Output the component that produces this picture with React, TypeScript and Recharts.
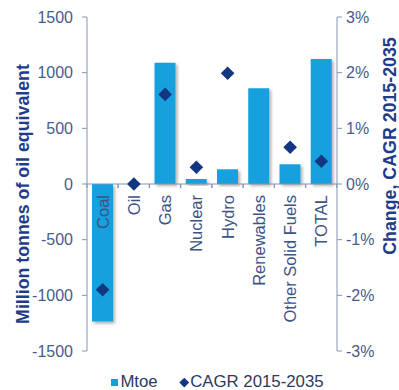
import React from "react";
import { ComposedChart, Bar, Scatter, XAxis, YAxis, ReferenceLine, Legend, LabelList } from "recharts";

const categories = ["Coal", "Oil", "Gas", "Nuclear", "Hydro", "Renewables", "Other Solid Fuels", "TOTAL"];
const mtoe = [-1236, 0, 1089, 45, 132, 859, 177, 1122];
// Renewables growth rate is off the top of the chart, no marker shown
const cagr = [-1.9, 0, 1.61, 0.3, 1.99, null, 0.66, 0.41];
const leftTicks = [-1500, -1000, -500, 0, 500, 1000, 1500];
const rightTicks = [-3, -2, -1, 0, 1, 2, 3];

const data = categories.map((name, i) => ({ name, mtoe: mtoe[i], cagr: cagr[i] }));

const FONT = "'Liberation Sans', Arial, sans-serif";
const BAR = "#14a0dd";
const NAVY = "#123682";
const AXIS = "#8194b6";
const TICK = "#465c8c";
const TITLE = "#1f3c8a";

const Diamond = (props: any) => {
	const { cx, cy, payload } = props;
	if (payload == null || payload.cagr == null) return <g />;
	const r = 6.8;
	return <polygon points={`${cx},${cy - r} ${cx + r},${cy} ${cx},${cy + r} ${cx - r},${cy}`} fill={NAVY} />;
};

const CategoryLabel = (props: any) => {
	const vb = props.viewBox || props;
	const { x, y, width, height } = vb;
	const idx = props.index;
	let zeroY = y + height;
	if (mtoe[idx] < 0 && height > 0) zeroY = y;
	const cx = x + width / 2;
	const band = width / 0.68;
	const ty = zeroY + 11;
	return (
		<g>
			<line x1={cx - band / 2} x2={cx - band / 2} y1={zeroY} y2={zeroY + 4} stroke={AXIS} />
			<line x1={cx + band / 2} x2={cx + band / 2} y1={zeroY} y2={zeroY + 4} stroke={AXIS} />
			<text x={cx} y={ty} transform={`rotate(-90, ${cx}, ${ty})`} textAnchor="end" dominantBaseline="central" fontSize={16.5} fill="#3d5285" fontFamily={FONT}>
				{props.value}
			</text>
		</g>
	);
};

const LeftTitle = (props: any) => {
	const { x, y, height } = props.viewBox;
	const cx = x + 23;
	const cy = y + height / 2 + 10;
	return (
		<text x={cx} y={cy} transform={`rotate(-90, ${cx}, ${cy})`} textAnchor="middle" dominantBaseline="central" fontSize={17.8} fontWeight="bold" fill={TITLE} fontFamily={FONT}>
			Million tonnes of oil equivalent
		</text>
	);
};

const RightTitle = (props: any) => {
	const { x, y, height } = props.viewBox;
	const cx = x + 53;
	const cy = y + height / 2 - 38;
	return (
		<text x={cx} y={cy} transform={`rotate(-90, ${cx}, ${cy})`} textAnchor="middle" dominantBaseline="central" fontSize={17.8} fontWeight="bold" fill={TITLE} fontFamily={FONT}>
			Change, CAGR 2015-2035
		</text>
	);
};

const ChartLegend = () => (
	<div style={{ display: "flex", justifyContent: "center", alignItems: "center", paddingLeft: 36, fontFamily: FONT, fontSize: 16.8, color: "#2b3a5c" }}>
		<span style={{ display: "inline-block", width: 7, height: 7, background: BAR, marginRight: 2 }} />
		<span style={{ marginRight: 23 }}>Mtoe</span>
		<span style={{ display: "inline-block", width: 6.5, height: 6.5, background: NAVY, transform: "rotate(45deg)", marginRight: 3 }} />
		<span>CAGR 2015-2035</span>
	</div>
);

const App = () => {
	return (
		<div style={{ position: "absolute", left: 0, top: 0 }}>
			<ComposedChart width={399} height={390} data={data} margin={{ top: 17, right: 0, bottom: 15, left: 0 }} barCategoryGap="16%">
				<defs>
					<filter id="barShadow" x="-20%" y="-20%" width="140%" height="140%">
						<feDropShadow dx={2} dy={2} stdDeviation={1.5} floodColor="#000" floodOpacity={0.3} />
					</filter>
				</defs>
				<XAxis dataKey="name" hide />
				<YAxis
					yAxisId="left"
					width={87}
					domain={[-1500, 1500]}
					ticks={leftTicks}
					interval={0}
					tickSize={5}
					tickMargin={9}
					axisLine={{ stroke: AXIS }}
					tickLine={{ stroke: AXIS }}
					tick={{ fill: TICK, fontSize: 16, fontFamily: FONT }}
					label={{ content: LeftTitle }}
				/>
				<YAxis
					yAxisId="right"
					orientation="right"
					width={62}
					domain={[-3, 3]}
					ticks={rightTicks}
					interval={0}
					tickSize={5}
					tickMargin={4}
					tickFormatter={(v) => `${v}%`}
					axisLine={{ stroke: AXIS }}
					tickLine={{ stroke: AXIS }}
					tick={{ fill: TICK, fontSize: 16, fontFamily: FONT }}
					label={{ content: RightTitle }}
				/>
				<Bar
					yAxisId="left"
					dataKey="mtoe"
					name="Mtoe"
					fill={BAR}
					isAnimationActive={false}
					minPointSize={(value: number) => (value === 0 ? 0.01 : 0)}
					style={{ filter: "url(#barShadow)" }}
				>
					<LabelList dataKey="name" content={CategoryLabel} />
				</Bar>
				<ReferenceLine yAxisId="left" y={0} stroke={AXIS} />
				<Scatter yAxisId="right" dataKey="cagr" name="CAGR 2015-2035" fill={NAVY} shape={Diamond} isAnimationActive={false} />
				<Legend verticalAlign="bottom" height={24} content={ChartLegend} wrapperStyle={{ top: 372, bottom: "auto", left: 0, width: 399 }} />
			</ComposedChart>
		</div>
	);
};

export default App;
